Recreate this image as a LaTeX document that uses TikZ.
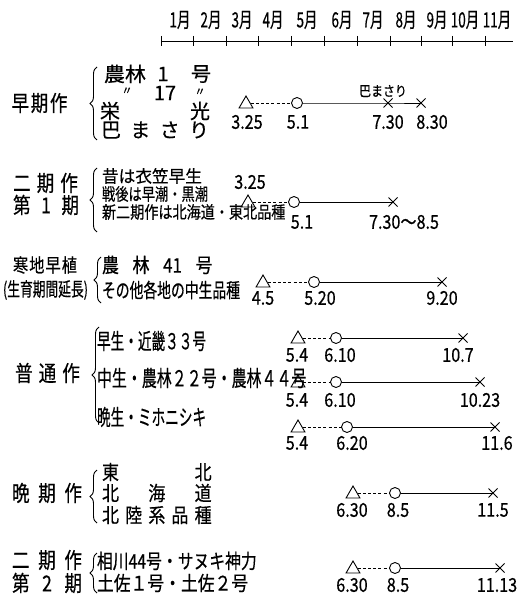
\documentclass[tikz,border=0pt]{standalone}
\usepackage{fontspec}
\usepackage{graphicx}
\usetikzlibrary{shapes.geometric,shapes.misc,decorations.pathreplacing}
\setmainfont{Noto Sans CJK JP}[FakeBold=0.5]
\newcommand\fs[1]{\fontsize{#1pt}{#1pt}\selectfont}
\newcommand\jt[3]{{\fs{#1}\scalebox{#2}[1]{#3}}}
\newcommand\spr[4]{{\fs{#1}\scalebox{#2}[1]{\makebox[#3pt][s]{#4}}}}
\begin{document}
\begin{tikzpicture}[x=1pt,y=-1pt,
  every node/.style={inner sep=0pt, outer sep=0pt},
  ln/.style={line width=0.9pt},
  dsh/.style={line width=0.9pt, dash pattern=on 3pt off 2.2pt},
  tri/.style={draw, line width=0.9pt, regular polygon, regular polygon sides=3, minimum size=16pt},
  circ/.style={draw, line width=0.9pt, circle, minimum size=11pt},
  crs/.style={draw, line width=0.9pt, cross out, minimum size=9pt},
  brc/.style={line width=0.9pt, decorate, decoration={brace, amplitude=7pt}},
]
\useasboundingbox (0,0) rectangle (517,601);
\fill[white] (0,0) rectangle (517,601);
\newcommand\nm[1]{\jt{19}{0.85}{#1}}

% axis
\coordinate (a0) at (161,41);
\coordinate (a1) at (513,41);
\draw[ln] (a0) -- (a1);
\foreach \x in {161.7,193.3,226,258.3,291.7,324,357.3,390,421.7,452.7,485}
  \draw[ln] (\x,36) -- (\x,46);
\foreach \x/\mm [count=\i] in {180/1,211/2,242/3,273/4,307/5,342/6,373/7,406/8,437/9,465/10,497/11}
  \node (m\i) at (\x,20) {\jt{21}{0.64}{\mm 月}};

% ---------- section 1 ----------
\node (s1) at (39.5,103) {\spr{22}{0.8}{70}{早\hfill 期\hfill 作}};
\coordinate (b1a) at (97,140); \coordinate (b1b) at (97,67);
\draw[brc] (b1a) -- (b1b);
\node (r1a) at (125,74) {\jt{20}{1.05}{農林}};
\node (r1b) at (163,74) {\jt{20}{1}{1}};
\node (r1c) at (201,74) {\jt{20}{1}{号}};
\node (r2a) at (127,91) {\jt{11}{1}{〃}};
\node (r2b) at (165,93) {\jt{20}{1}{17}};
\node (r2c) at (200,92) {\jt{11}{1}{〃}};
\node (r3a) at (110,111) {\jt{20}{1}{栄}};
\node (r3b) at (200,111) {\jt{20}{1}{光}};
\node (r4) at (155,130) {\spr{20}{1}{108}{巴\hfill ま\hfill さ\hfill り}};

\node[tri] (t1a) at (246,104) {};
\node[circ] (t1b) at (297,103) {};
\node[crs] (t1c) at (388,103) {};
\node[crs] (t1d) at (421,103) {};
\draw[dsh] (t1a.east |- t1b) -- (t1b);
\draw[ln] (t1b) -- (t1c.center) -- (t1d.center);
\node (t1la) at (247,122) {\nm{3.25}};
\node (t1lb) at (298,122) {\nm{5.1}};
\node (t1lc) at (388,122) {\nm{7.30}};
\node (t1ld) at (432,122) {\nm{8.30}};
\node (t1n) at (383,91) {\jt{14}{0.85}{巴まさり}};

% ---------- section 2 ----------
\node (s2a) at (45.5,183) {\spr{22}{0.8}{81}{二\hfill 期\hfill 作}};
\node (s2b) at (46,205) {\spr{22}{0.8}{82.5}{第\hfill 1\hfill 期}};
\coordinate (b2a) at (97,232); \coordinate (b2b) at (97,168);
\draw[brc] (b2a) -- (b2b);
\node[anchor=west] (r5) at (102,176) {\jt{17}{0.98}{昔は衣笠早生}};
\node[anchor=west] (r6) at (102,194) {\jt{17}{0.78}{戦後は早潮・黒潮}};
\node[anchor=west] (r7) at (102,212) {\jt{17}{0.83}{新二期作は北海道・東北品種}};

\node[tri] (t2a) at (248,203) {};
\node[circ] (t2b) at (294,202) {};
\node[crs] (t2c) at (393,202) {};
\draw[dsh] (t2a.east |- t2b) -- (t2b);
\draw[ln] (t2b) -- (t2c.center);
\node (t2la) at (250,182) {\nm{3.25}};
\node (t2lb) at (302,222) {\nm{5.1}};
\node (t2lc) at (404,222) {\nm{7.30〜8.5}};

% ---------- section 3 ----------
\node (s3a) at (45,265) {\spr{19}{0.8}{80}{寒\hfill 地\hfill 早\hfill 植}};
\node (s3b) at (45.5,290) {\jt{19}{0.67}{(生育期間延長)}};
\coordinate (b3a) at (101,303); \coordinate (b3b) at (101,257);
\draw[brc] (b3a) -- (b3b);
\node[anchor=west] (r8) at (102,265) {\spr{20}{0.85}{130}{農\hfill 林\hfill 41\hfill 号}};
\node[anchor=west] (r9) at (102,290) {\jt{20}{0.69}{その他各地の中生品種}};

\node[tri] (t3a) at (263,283) {};
\node[circ] (t3b) at (314,282) {};
\node[crs] (t3c) at (442,282) {};
\draw[dsh] (t3a.east |- t3b) -- (t3b);
\draw[ln] (t3b) -- (t3c.center);
\node (t3la) at (263,298) {\nm{4.5}};
\node (t3lb) at (320,298) {\nm{5.20}};
\node (t3lc) at (442,298) {\nm{9.20}};

% ---------- section 4 ----------
\node (s4) at (47.5,373) {\spr{22}{0.8}{81}{普\hfill 通\hfill 作}};
\coordinate (b4a) at (99,423); \coordinate (b4b) at (99,327);
\draw[brc] (b4a) -- (b4b);
\node[anchor=west] (r10) at (97,341) {\jt{22}{0.62}{早生・近畿３３号}};
\node[anchor=west] (r11) at (97,378) {\jt{22}{0.68}{中生・農林２２号・農林４４号}};
\node[anchor=west] (r12) at (97,417) {\jt{22}{0.62}{晩生・ミホニシキ}};

\node[tri] (t4a) at (298,339) {};
\node[circ] (t4b) at (336,338) {};
\node[crs] (t4c) at (463,338) {};
\draw[dsh] (t4a.east |- t4b) -- (t4b);
\draw[ln] (t4b) -- (t4c.center);
\node (t4la) at (297,355) {\nm{5.4}};
\node (t4lb) at (340,355) {\nm{6.10}};
\node (t4lc) at (458,355) {\nm{10.7}};

\node[tri] (t5a) at (298,383) {};
\node[circ] (t5b) at (336,382) {};
\node[crs] (t5c) at (480,382) {};
\draw[dsh] (t5a.east |- t5b) -- (t5b);
\draw[ln] (t5b) -- (t5c.center);
\node (t5la) at (297,400) {\nm{5.4}};
\node (t5lb) at (340,400) {\nm{6.10}};
\node (t5lc) at (480,400) {\nm{10.23}};

\node[tri] (t6a) at (298,428) {};
\node[circ] (t6b) at (347,427) {};
\node[crs] (t6c) at (495,427) {};
\draw[dsh] (t6a.east |- t6b) -- (t6b);
\draw[ln] (t6b) -- (t6c.center);
\node (t6la) at (297,443) {\nm{5.4}};
\node (t6lb) at (352,443) {\nm{6.20}};
\node (t6lc) at (497,443) {\nm{11.6}};

% ---------- section 5 ----------
\node (s5) at (47,493) {\spr{22}{0.8}{87.5}{晩\hfill 期\hfill 作}};
\coordinate (b5a) at (97,523); \coordinate (b5b) at (97,470);
\draw[brc] (b5a) -- (b5b);
\node[anchor=west] (r13) at (102,472) {\spr{20}{0.85}{129}{東\hfill 北}};
\node[anchor=west] (r14) at (102,493) {\spr{20}{0.85}{129}{北\hfill 海\hfill 道}};
\node[anchor=west] (r15) at (102,515) {\spr{20}{0.85}{129}{北\hfill 陸\hfill 系\hfill 品\hfill 種}};

\node[tri] (t7a) at (353,494) {};
\node[circ] (t7b) at (395,493) {};
\node[crs] (t7c) at (493,493) {};
\draw[dsh] (t7a.east |- t7b) -- (t7b);
\draw[ln] (t7b) -- (t7c.center);
\node (t7la) at (352,510) {\nm{6.30}};
\node (t7lb) at (398,510) {\nm{8.5}};
\node (t7lc) at (493,510) {\nm{11.5}};

% ---------- section 6 ----------
\node (s6a) at (47,560) {\spr{22}{0.8}{87.5}{二\hfill 期\hfill 作}};
\node (s6b) at (47,583) {\spr{22}{0.8}{87.5}{第\hfill 2\hfill 期}};
\coordinate (b6a) at (97,593); \coordinate (b6b) at (97,553);
\draw[brc] (b6a) -- (b6b);
\node[anchor=west] (r16) at (97,561) {\jt{20}{0.79}{相川44号・サヌキ神力}};
\node[anchor=west] (r17) at (97,583) {\jt{20}{0.84}{土佐１号・土佐２号}};

\node[tri] (t8a) at (353,569) {};
\node[circ] (t8b) at (395,568) {};
\node[crs] (t8c) at (500,568) {};
\draw[dsh] (t8a.east |- t8b) -- (t8b);
\draw[ln] (t8b) -- (t8c.center);
\node (t8la) at (352,585) {\nm{6.30}};
\node (t8lb) at (398,585) {\nm{8.5}};
\node (t8lc) at (497,585) {\nm{11.13}};
\end{tikzpicture}
\end{document}
